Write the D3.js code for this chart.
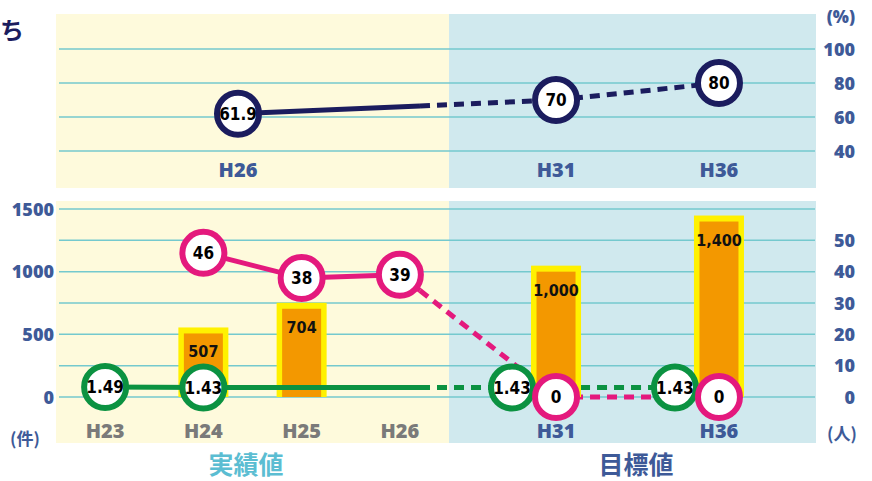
<!DOCTYPE html>
<html>
<head>
<meta charset="utf-8">
<script src="https://cdn.jsdelivr.net/npm/d3@7"></script>
<style>
  body { margin: 0; background: #fff; }
  svg { display: block; }
  .num { font-family: "DejaVu Sans Condensed", sans-serif; font-weight: bold; }
  .ax { font-family: "Open Sans", sans-serif; font-weight: 800; }
  .jp { font-family: "Noto Sans CJK JP", sans-serif; font-weight: 700; }
</style>
</head>
<body>
<div id="chart"></div>
<script>
// categories
var actualCats = ['H23', 'H24', 'H25', 'H26'];
var targetCats = ['H31', 'H36'];
var topActualCats = ['H26'];

// top panel (%)
var rateCats = ['H26', 'H31', 'H36'];
var rateVals = [61.9, 70, 80];

// bars (件)
var barCats = ['H24', 'H25', 'H31', 'H36'];
var barVals = [507, 704, 1000, 1400];

// pink line (人)
var peopleCats = ['H24', 'H25', 'H26', 'H31', 'H36'];
var peopleVals = [46, 38, 39, 0, 0];

// green line
var greenCats = ['H23', 'H24', 'H31', 'H36'];
var greenVals = [1.49, 1.43, 1.43, 1.43];

// ticks
var pctTicks = [40, 60, 80, 100];
var countTicks = [0, 500, 1000, 1500];
var peopleTicks = [0, 10, 20, 30, 40, 50];
var gridCount = [0, 250, 500, 750, 1000, 1250, 1500];

var W = 872, H = 481;
var navy = '#1b1c5e', pink = '#e4197d', green = '#0b9241',
    orange = '#f39800', yellow = '#fff100',
    bgYellow = '#fefadc', bgBlue = '#d0e9ee', grid = '#74c9ce',
    axisBlue = '#3e5a98', gray = '#7a7a7a';

var svg = d3.select('#chart').append('svg').attr('width', W).attr('height', H);

var xActual = d3.scalePoint().domain(actualCats).range([56, 449]).padding(0.5);
var xTarget = d3.scalePoint().domain(targetCats).range([455, 820]).padding(0.62);
var xTopActual = d3.scalePoint().domain(topActualCats).range([56, 420]).padding(0.5);
var xBottom = function (c) { return actualCats.indexOf(c) >= 0 ? xActual(c) : xTarget(c); };
var xTop = function (c) { return topActualCats.indexOf(c) >= 0 ? xTopActual(c) : xTarget(c); };

var yPct = d3.scaleLinear().domain([40, 100]).range([151, 49]);
var yCount = d3.scaleLinear().domain([0, 1500]).range([397, 209]);
var yPeople = d3.scaleLinear().domain([0, 60]).range([397, 209]);
var yRate = d3.scaleLinear().domain([0, 15]).range([397, 297]);

var splitX = 420, greenShift = -44;

// backgrounds
svg.append('rect').attr('x', 56).attr('y', 14).attr('width', 393).attr('height', 174).attr('fill', bgYellow);
svg.append('rect').attr('x', 449).attr('y', 14).attr('width', 367).attr('height', 174).attr('fill', bgBlue);
svg.append('rect').attr('x', 56).attr('y', 201).attr('width', 393).attr('height', 242).attr('fill', bgYellow);
svg.append('rect').attr('x', 449).attr('y', 201).attr('width', 367).attr('height', 242).attr('fill', bgBlue);

// grid
svg.append('g').selectAll('line').data(pctTicks).join('line')
    .attr('x1', 59).attr('x2', 815)
    .attr('y1', function (d) { return yPct(d); }).attr('y2', function (d) { return yPct(d); })
    .attr('stroke', grid).attr('stroke-width', 1.5);
svg.append('g').selectAll('line').data(gridCount).join('line')
    .attr('x1', 59).attr('x2', 815)
    .attr('y1', function (d) { return yCount(d); }).attr('y2', function (d) { return yCount(d); })
    .attr('stroke', grid).attr('stroke-width', 1.5);

// axes
function styleAxis(g, anchor, x) {
    g.select('.domain').remove();
    g.selectAll('.tick line').remove();
    g.selectAll('.tick text').attr('class', 'ax').attr('fill', axisBlue)
        .attr('font-size', 18).attr('text-anchor', anchor).attr('x', x).attr('dy', '0.35em');
}
svg.append('g')
    .call(d3.axisLeft(yCount).tickValues(countTicks).tickSize(0).tickFormat(d3.format('d')))
    .call(function (g) { styleAxis(g, 'end', 54); });
svg.append('g')
    .call(d3.axisRight(yPeople).tickValues(peopleTicks).tickSize(0).tickFormat(d3.format('d')))
    .call(function (g) { styleAxis(g, 'end', 855); });
svg.append('g')
    .call(d3.axisRight(yPct).tickValues(pctTicks).tickSize(0))
    .call(function (g) { styleAxis(g, 'end', 855); });

svg.append('text').attr('class', 'ax').attr('x', 855).attr('y', 23).attr('text-anchor', 'end')
    .attr('font-size', 17).attr('fill', axisBlue).text('(%)');
svg.append('text').attr('class', 'jp').attr('x', 10).attr('y', 445)
    .attr('font-size', 17).attr('fill', axisBlue).text('(件)');
svg.append('text').attr('class', 'jp').attr('x', 827).attr('y', 440)
    .attr('font-size', 17).attr('fill', axisBlue).text('(人)');

// x labels
svg.append('g').selectAll('text').data(actualCats.concat(targetCats)).join('text')
    .attr('class', 'ax').attr('font-size', 20).attr('text-anchor', 'middle')
    .attr('x', function (d) { return xBottom(d); }).attr('y', 438)
    .attr('fill', function (d) { return actualCats.indexOf(d) >= 0 ? gray : axisBlue; })
    .text(function (d) { return d; });
svg.append('g').selectAll('text').data(rateCats).join('text')
    .attr('class', 'ax').attr('font-size', 20).attr('text-anchor', 'middle')
    .attr('x', function (d) { return xTop(d); }).attr('y', 177)
    .attr('fill', axisBlue).text(function (d) { return d; });

svg.append('text').attr('class', 'jp').attr('x', 246).attr('y', 474).attr('text-anchor', 'middle')
    .attr('font-size', 25).attr('fill', '#5bbdd2').text('実績値');
svg.append('text').attr('class', 'jp').attr('x', 636).attr('y', 474).attr('text-anchor', 'middle')
    .attr('font-size', 25).attr('fill', axisBlue).text('目標値');
svg.append('text').attr('class', 'jp').attr('x', 0).attr('y', 39)
    .attr('font-size', 24).attr('fill', navy).text('ち');

// split a polyline into solid (actual) and dashed (target) parts
function splitLine(pts) {
    var solid = [], dashed = [];
    for (var i = 0; i < pts.length - 1; i++) {
        var a = pts[i], b = pts[i + 1];
        if (b[0] <= splitX) solid.push([a, b]);
        else if (a[0] >= splitX) dashed.push([a, b]);
        else {
            var t = (splitX - a[0]) / (b[0] - a[0]);
            var m = [splitX, a[1] + t * (b[1] - a[1])];
            solid.push([a, m]);
            dashed.push([m, b]);
        }
    }
    return { solid: solid, dashed: dashed };
}

var line = d3.line();
var navyPts = rateCats.map(function (c, i) { return [xTop(c), yPct(rateVals[i])]; });
var pinkPts = peopleCats.map(function (c, i) { return [xBottom(c), yPeople(peopleVals[i])]; });
var greenPts = greenCats.map(function (c, i) {
    var x = xBottom(c) + (targetCats.indexOf(c) >= 0 ? greenShift : 0);
    return [x, yRate(greenVals[i])];
});

function drawSegs(segs, color, dashed) {
    svg.append('g').selectAll('path').data(segs).join('path')
        .attr('d', function (d) { return line(d); })
        .attr('fill', 'none').attr('stroke', color).attr('stroke-width', 5)
        .attr('stroke-dasharray', dashed ? '10,7' : null);
}

var navySplit = splitLine(navyPts), pinkSplit = splitLine(pinkPts), greenSplit = splitLine(greenPts);

drawSegs(navySplit.dashed, navy, true);
drawSegs(greenSplit.dashed, green, true);
drawSegs(pinkSplit.dashed, pink, true);

// bars
var bars = svg.append('g').selectAll('g').data(barCats).join('g');
bars.append('rect')
    .attr('x', function (d) { return xBottom(d) - 25; })
    .attr('y', function (d, i) { return yCount(barVals[i]) - 6; })
    .attr('width', 50)
    .attr('height', function (d, i) { return yCount(0) - yCount(barVals[i]) + 6; })
    .attr('fill', yellow);
bars.append('rect')
    .attr('x', function (d) { return xBottom(d) - 19.5; })
    .attr('y', function (d, i) { return yCount(barVals[i]); })
    .attr('width', 39)
    .attr('height', function (d, i) { return yCount(0) - yCount(barVals[i]); })
    .attr('fill', orange);
bars.append('text').attr('class', 'num').attr('font-size', 16).attr('text-anchor', 'middle')
    .attr('x', function (d) { return xBottom(d); })
    .attr('y', function (d, i) { return yCount(barVals[i]) + 24; })
    .attr('fill', '#111').text(function (d, i) { return d3.format(',')(barVals[i]); });

drawSegs(navySplit.solid, navy, false);
drawSegs(greenSplit.solid, green, false);
drawSegs(pinkSplit.solid, pink, false);

// markers
function markers(pts, vals, color, fmt) {
    var g = svg.append('g').selectAll('g').data(pts).join('g')
        .attr('transform', function (d) { return 'translate(' + d[0] + ',' + d[1] + ')'; });
    g.append('circle').attr('r', 21).attr('fill', '#fff').attr('stroke', color).attr('stroke-width', 6);
    g.append('text').attr('class', 'num').attr('font-size', 17).attr('text-anchor', 'middle')
        .attr('dy', '0.36em').attr('fill', '#000')
        .text(function (d, i) { return fmt(vals[i]); });
}
markers(navyPts, rateVals, navy, function (v) { return String(v); });
markers(greenPts, greenVals, green, d3.format('.2f'));
markers(pinkPts, peopleVals, pink, function (v) { return String(v); });
</script>
</body>
</html>
